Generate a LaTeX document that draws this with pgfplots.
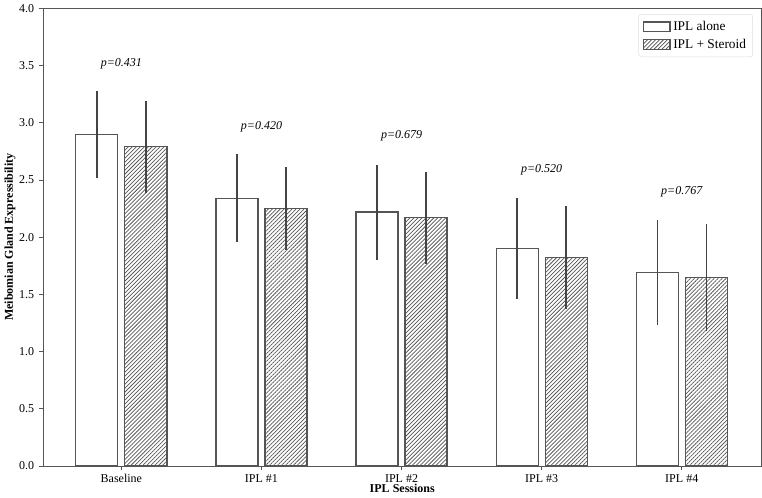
\documentclass[border=0pt]{standalone}
\usepackage{fontspec}
\setmainfont{Liberation Serif}
\usepackage{pgfplots}
\usepackage{pgfplotstable}
\pgfplotsset{compat=1.18}
\usetikzlibrary{patterns.meta}
\definecolor{edgegray}{HTML}{555555}
\definecolor{errgray}{HTML}{444444}

\pgfplotstableread{
x  alone  salone  ster  sster
0  2.90   0.38    2.79  0.40
1  2.34   0.385   2.25  0.36
2  2.22   0.415   2.17  0.40
3  1.90   0.44    1.82  0.45
4  1.69   0.46    1.65  0.47
}\datatab

\pgfplotstableread{
x  y     lab
0  3.52  {p=0.431}
1  2.97  {p=0.420}
2  2.885 {p=0.679}
3  2.59  {p=0.520}
4  2.40  {p=0.767}
}\ptab

\begin{document}
\begin{tikzpicture}
\begin{axis}[
    scale only axis,
    width=538.5pt, height=342.75pt,
    xmin=-0.56, xmax=4.57,
    ymin=0, ymax=4,
    xtick={0,1,2,3,4},
    xticklabels={Baseline, IPL \#1, IPL \#2, IPL \#3, IPL \#4},
    ytick={0,0.5,...,4},
    yticklabel style={/pgf/number format/.cd, fixed, fixed zerofill, precision=1},
    /pgf/number format/assume math mode=true,
    tick label style={font=\fontsize{9}{10}\selectfont},
    tick align=outside, tick pos=left,
    major tick length=3pt,
    axis line style={draw=edgegray, line width=0.6pt},
    every tick/.style={draw=edgegray, line width=0.6pt},
    xlabel={\textbf{IPL Sessions}},
    ylabel={\textbf{Meibomian Gland Expressibility}},
    label style={font=\fontsize{9}{10}\selectfont},
    xlabel style={yshift=6pt},
    ylabel style={yshift=-4pt},
    legend style={at={(0.988,0.988)}, anchor=north east, draw=gray!25,
        rounded corners=2pt, font=\fontsize{10}{11}\selectfont,
        inner sep=3pt, row sep=1pt},
    legend image code/.code={\draw[#1, sharp corners] (0pt,-3.5pt) rectangle (20pt,3.5pt);},
    legend cell align=left,
]
\addplot[ybar, bar width=0.3, bar shift=0pt, draw=edgegray, fill=white, line width=0.9pt,
    error bars/.cd, y dir=both, y explicit, error mark=none,
    error bar style={draw=errgray, line width=1.1pt}]
    table[x expr=\thisrow{x}-0.175, y=alone, y error=salone] {\datatab};
\addlegendentry{IPL alone}

\addplot[ybar, bar width=0.3, bar shift=0pt, draw=edgegray, line width=0.9pt,
    postaction={pattern={Lines[angle=45, distance=2.1pt, line width=0.55pt]}, pattern color=edgegray},
    error bars/.cd, y dir=both, y explicit, error mark=none,
    error bar style={draw=errgray, line width=1.1pt}]
    table[x expr=\thisrow{x}+0.175, y=ster, y error=sster] {\datatab};
\addlegendentry{IPL + Steroid}

\addplot[draw=none, mark=none, forget plot, nodes near coords,
    point meta=explicit symbolic,
    nodes near coords style={anchor=center, font=\fontsize{9}{10}\selectfont\itshape}]
    table[x=x, y=y, meta=lab] {\ptab};
\end{axis}
\end{tikzpicture}
\end{document}
